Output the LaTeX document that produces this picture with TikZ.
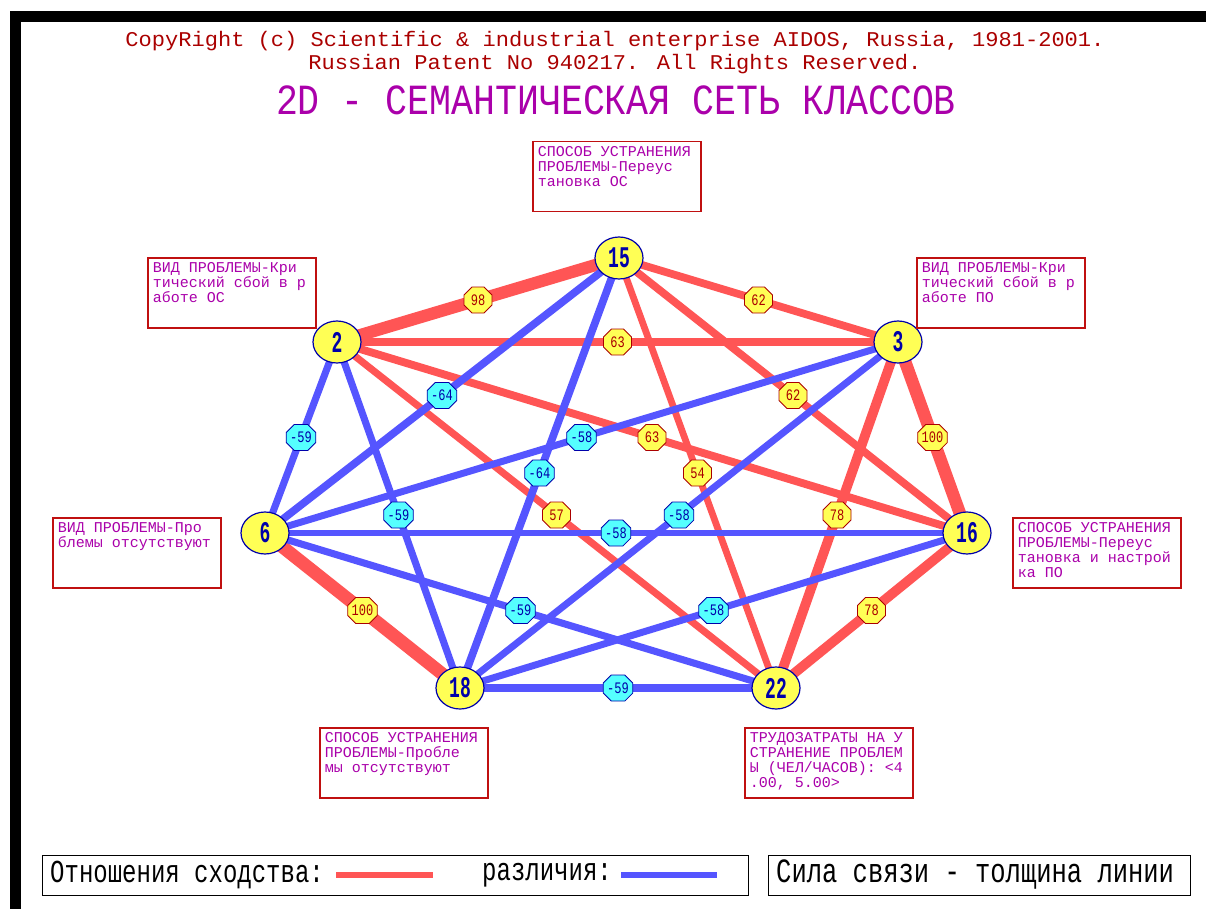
\documentclass[tikz,border=0pt]{standalone}
\usepackage{fontspec}
\usepackage{xcolor}
\setmonofont{Liberation Mono}
\newfontfamily\pixfont[FakeStretch=0.75]{Liberation Mono}
\newfontfamily\hdrfont[FakeStretch=1.05]{Liberation Mono}
\newfontfamily\numfont[FakeStretch=0.6]{Liberation Mono}
\newfontfamily\titlefont[FakeStretch=0.85]{Liberation Mono}
\usetikzlibrary{shapes.geometric,shapes.misc,positioning}
\pgfdeclarelayer{background}
\pgfsetlayers{background,main}
\definecolor{simred}{HTML}{FF5555}
\definecolor{difblue}{HTML}{5555FF}
\definecolor{nodeyel}{HTML}{FFFF55}
\definecolor{lblcyan}{HTML}{55FFFF}
\definecolor{darkred}{HTML}{AA0000}
\definecolor{boxred}{HTML}{C01010}
\definecolor{darkblue}{HTML}{0000AA}
\definecolor{magent}{HTML}{AA00AA}

\begin{document}
\begin{tikzpicture}[
            x=1pt,y=-1pt,
            cls/.style={
                    ellipse,
                    draw=darkblue,
                    line width=1.2pt,
                    fill=nodeyel,
                    text=darkblue,
                    minimum width=48pt,
                    minimum height=42pt,
                    inner sep=0pt,
                    font=\fontsize{30}{30}\numfont\bfseries
                },
            sim/.style={draw=simred, line width=#1*0.125pt},
            dif/.style={draw=difblue, line width=#1*0.12pt},
            simlbl/.style={
                    chamfered rectangle,
                    chamfered rectangle sep=4pt,
                    draw=darkred,
                    line width=0.8pt,
                    fill=nodeyel,
                    text=darkred,
                    minimum width=28pt,
                    minimum height=26pt,
                    inner sep=0pt,
                    font=\fontsize{16}{16}\pixfont
                },
            diflbl/.style={
                    simlbl,
                    draw=darkblue,
                    fill=lblcyan,
                    text=darkblue
                },
            info/.style={
                    draw=boxred,
                    line width=1.5pt,
                    fill=white,
                    anchor=north west,
                    inner sep=5pt,
                    text=magent,
                    font=\fontsize{15}{15}\ttfamily
                },
            hdr/.style={text=darkred, inner sep=0pt, font=\fontsize{21}{21}\hdrfont},
            legbox/.style={draw=black, line width=1.2pt, anchor=north west, minimum height=40pt},
            legtxt/.style={anchor=west, inner sep=0pt, font=\fontsize{32}{32}\pixfont}
        ]
        \useasboundingbox (0,0) rectangle (1206,909);
        \fill[black] (10,11) rectangle (1206,22);
        \fill[black] (10,11) rectangle (21,909);
        \draw[gray, double=white, double distance=1.2pt, line width=0.8pt] (24,24) rectangle (1199,904);

        \node[hdr] (copyr) at (615,41)
        {CopyRight (c) Scientific \& industrial enterprise AIDOS, Russia, 1981-2001.};
        \node[hdr] (patent) at (615,64)
        {Russian Patent No 940217. All Rights Reserved.};
        \node[text=magent, font=\fontsize{43}{43}\titlefont] (title) at (616,100)
        {2D - СЕМАНТИЧЕСКАЯ СЕТЬ КЛАССОВ};

        \node[cls] (n15) at (619,258) {15};
        \node[cls] (n2) at (337,342) {2};
        \node[cls] (n3) at (898,342) {3};
        \node[cls] (n6) at (265,533) {6};
        \node[cls] (n16) at (967,533) {16};
        \node[cls] (n18) at (460,688) {18};
        \node[cls] (n22) at (776,688) {22};

        \begin{pgfonlayer}{background}
            \draw[sim=98] (n2.center) -- node[simlbl] {98} (n15.center);
            \draw[sim=62] (n15.center) -- node[simlbl] {62} (n3.center);
            \draw[sim=63] (n2.center) -- node[simlbl] {63} (n3.center);
            \draw[sim=62] (n15.center) -- node[simlbl] {62} (n16.center);
            \draw[sim=63] (n2.center) -- node[simlbl] {63} (n16.center);
            \draw[sim=54] (n15.center) -- node[simlbl] {54} (n22.center);
            \draw[sim=100] (n3.center) -- node[simlbl] {100} (n16.center);
            \draw[sim=57] (n2.center) -- node[simlbl] {57} (n22.center);
            \draw[sim=78] (n3.center) -- node[simlbl] {78} (n22.center);
            \draw[sim=104] (n6.center) -- node[simlbl] {100} (n18.center);
            \draw[sim=78] (n16.center) -- node[simlbl] {78} (n22.center);

            \draw[dif=59] (n2.center) -- node[diflbl] {-59} (n6.center);
            \draw[dif=64] (n15.center) -- node[diflbl] {-64} (n6.center);
            \draw[dif=59] (n2.center) -- node[diflbl] {-59} (n18.center);
            \draw[dif=58] (n3.center) -- node[diflbl] {-58} (n6.center);
            \draw[dif=64] (n15.center) -- node[diflbl] {-64} (n18.center);
            \draw[dif=58] (n3.center) -- node[diflbl] {-58} (n18.center);
            \draw[dif=58] (n6.center) -- node[diflbl] {-58} (n16.center);
            \draw[dif=59] (n6.center) -- node[diflbl] {-59} (n22.center);
            \draw[dif=58] (n16.center) -- node[diflbl] {-58} (n18.center);
            \draw[dif=59] (n18.center) -- node[diflbl] {-59} (n22.center);
        \end{pgfonlayer}

        \node[info] (d15) at (532,141)
        {\parbox[t][60pt][t]{158pt}{СПОСОБ УСТРАНЕНИЯ\\ПРОБЛЕМЫ-Переус\\тановка ОС}};
        \node[info] (d2) at (147,257)
        {\parbox[t][60pt][t]{158pt}{ВИД ПРОБЛЕМЫ-Кри\\тический сбой в р\\аботе ОС}};
        \node[info] (d3) at (916,257)
        {\parbox[t][60pt][t]{158pt}{ВИД ПРОБЛЕМЫ-Кри\\тический сбой в р\\аботе ПО}};
        \node[info] (d6) at (52,517)
        {\parbox[t][60pt][t]{158pt}{ВИД ПРОБЛЕМЫ-Про\\блемы отсутствуют}};
        \node[info] (d16) at (1012,517)
        {\parbox[t][60pt][t]{158pt}{СПОСОБ УСТРАНЕНИЯ\\ПРОБЛЕМЫ-Переус\\тановка и настрой\\ка ПО}};
        \node[info] (d18) at (319,727)
        {\parbox[t][60pt][t]{158pt}{СПОСОБ УСТРАНЕНИЯ\\ПРОБЛЕМЫ-Пробле\\мы отсутствуют}};
        \node[info] (d22) at (744,727)
        {\parbox[t][60pt][t]{158pt}{ТРУДОЗАТРАТЫ НА У\\СТРАНЕНИЕ ПРОБЛЕМ\\Ы (ЧЕЛ/ЧАСОВ): <4\\.00, 5.00>}};

        \node[legbox, minimum width=706pt] (keysim) at (42,855) {};
        \node[legbox, minimum width=422pt] (keystr) at (768,855) {};
        \node[legtxt] (simtxt) at (50,875) {Отношения сходства:};
        \coordinate[right=12pt of simtxt.east] (simA);
        \coordinate[right=97pt of simA] (simB);
        \draw[simred, line width=6pt] (simA) -- (simB);
        \node[legtxt] (diftxt) at (482,875) {различия:};
        \coordinate[right=9pt of diftxt.east] (difA);
        \coordinate[right=96pt of difA] (difB);
        \draw[difblue, line width=6pt] (difA) -- (difB);
        \node[legtxt, font=\fontsize{34}{34}\pixfont] (strtxt) at (776,875) {Сила связи - толщина линии};
    \end{tikzpicture}
\end{document}
